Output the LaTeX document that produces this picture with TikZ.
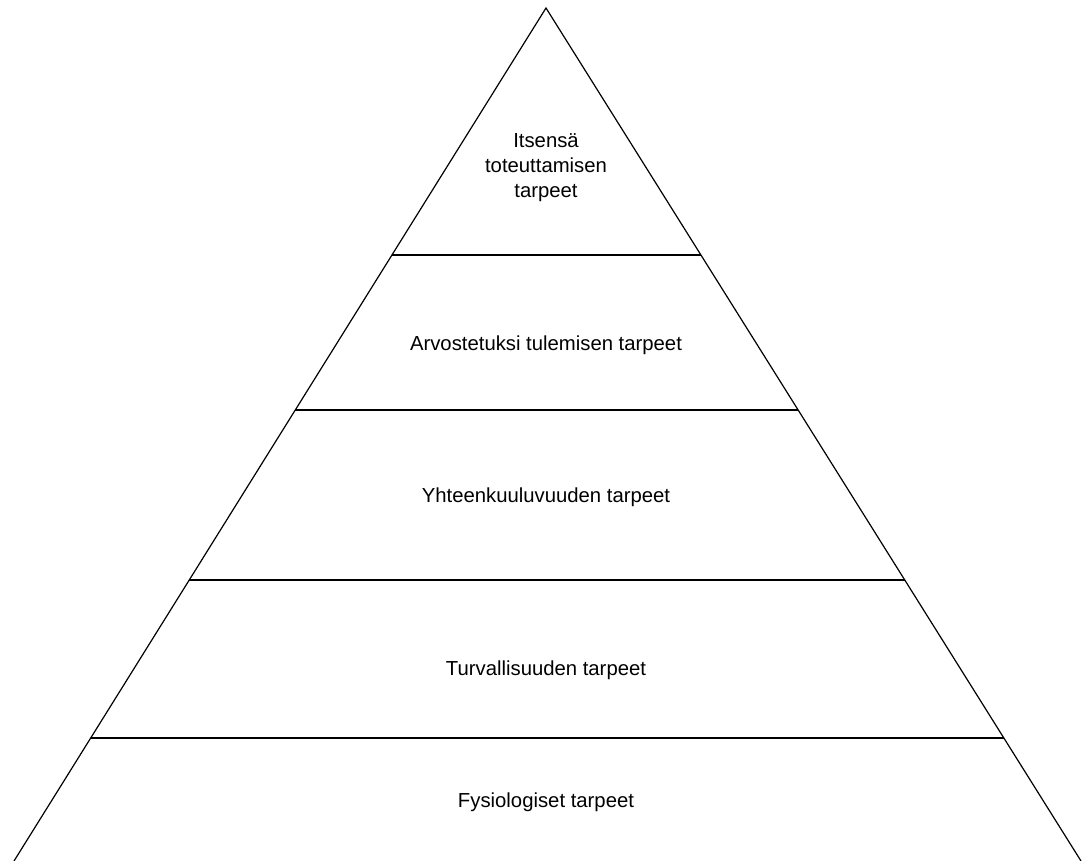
\documentclass[tikz,border=0pt]{standalone}
\usepackage{fontspec}
\setmainfont{Liberation Sans}
\begin{document}
\begin{tikzpicture}[x=1pt, y=-1pt,
    levelname/.style={font=\fontsize{20.3}{25}\selectfont, align=center, inner sep=0pt}]

    \useasboundingbox (0,0) rectangle (1082,861);

    % Sides of the pyramid
    \coordinate (apex) at (546,8);
    \coordinate (leftfoot) at (14,861);
    \coordinate (rightfoot) at (1081,861);
    \draw[line width=1.2pt] (leftfoot) -- (apex) -- (rightfoot);

    % Level boundaries
    \foreach \y in {255,410,580,738}
        \draw[line width=1.2pt] ({546-0.6237*(\y-8)},\y) -- ({546+0.6272*(\y-8)},\y);

    % Level names
    \node[levelname] (self) at (546,168) {Itsensä\\toteuttamisen\\tarpeet};
    \node[levelname] (esteem) at (546,345) {Arvostetuksi tulemisen tarpeet};
    \node[levelname] (belong) at (546,497) {Yhteenkuuluvuuden tarpeet};
    \node[levelname] (safety) at (546,670) {Turvallisuuden tarpeet};
    \node[levelname] (body) at (546,802) {Fysiologiset tarpeet};

\end{tikzpicture}
\end{document}
